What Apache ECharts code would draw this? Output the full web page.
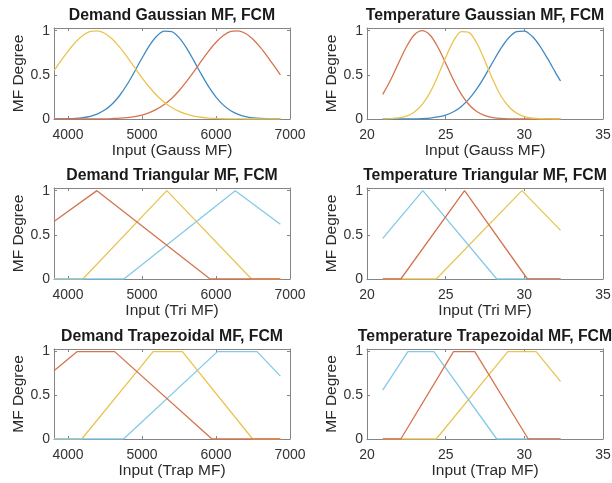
<!DOCTYPE html>
<html><head><meta charset="utf-8">
<script src="https://cdn.jsdelivr.net/npm/echarts@6/dist/echarts.min.js"></script>
<style>html,body{margin:0;padding:0;background:#fff}#c{width:612px;height:483px}</style>
</head><body><div id="c"></div>
<script>
// ---------- data ----------
const panelTitles = ['Demand Gaussian MF, FCM','Temperature Gaussian MF, FCM','Demand Triangular MF, FCM','Temperature Triangular MF, FCM','Demand Trapezoidal MF, FCM','Temperature Trapezoidal MF, FCM'];
const xNames = ['Input (Gauss MF)','Input (Gauss MF)','Input (Tri MF)','Input (Tri MF)','Input (Trap MF)','Input (Trap MF)'];
const yName = 'MF Degree';
const demandTicks = [4000,5000,6000,7000];
const tempTicks = [20,25,30,35];
const yTicks = [0,0.5,1];

const demandX = [3810,3900,4000,4100,4200,4300,4400,4500,4600,4700,4800,4900,5000,5100,5200,5300,5400,5500,5600,5700,5800,5900,6000,6100,6200,6300,6400,6500,6600,6700,6800,6870];
const demandGaussYellow = [0.547,0.654,0.769,0.869,0.946,0.991,0.998,0.968,0.903,0.811,0.701,0.583,0.466,0.359,0.266,0.190,0.130,0.086,0.055,0.033,0.020,0.011,0.006,0.003,0.002,0.001,0,0,0,0,0,0];
const demandGaussBlue = [0.001,0.001,0.003,0.007,0.016,0.031,0.059,0.104,0.173,0.269,0.393,0.538,0.690,0.831,0.939,0.995,0.989,0.921,0.805,0.660,0.508,0.366,0.248,0.157,0.093,0.052,0.027,0.013,0.006,0.003,0.001,0.001];
const demandGaussRed = [0,0,0,0,0,0.001,0.001,0.002,0.005,0.009,0.016,0.027,0.045,0.072,0.111,0.164,0.233,0.320,0.422,0.535,0.654,0.769,0.869,0.946,0.991,0.998,0.968,0.903,0.811,0.701,0.583,0.500];

const tempX = [21.0,21.5,22.0,22.5,23.0,23.5,24.0,24.5,25.0,25.5,26.0,26.5,27.0,27.5,28.0,28.5,29.0,29.5,30.0,30.5,31.0,31.5,32.0,32.3];
const tempGaussRed = [0.279,0.442,0.632,0.815,0.950,1.000,0.950,0.815,0.632,0.442,0.279,0.159,0.082,0.038,0.016,0.006,0.002,0.001,0,0,0,0,0,0];
const tempGaussYellow = [0.001,0.004,0.012,0.033,0.077,0.162,0.298,0.486,0.698,0.885,0.990,0.978,0.852,0.655,0.445,0.266,0.141,0.066,0.027,0.010,0.003,0.001,0,0];
const tempGaussBlue = [0,0,0,0.001,0.002,0.005,0.011,0.023,0.044,0.082,0.142,0.230,0.347,0.489,0.645,0.796,0.917,0.988,0.995,0.936,0.823,0.677,0.520,0.430];

const demandTriYellowX = [3810,4200,5335,6480,6870];
const demandTriYellowY = [0,0,1,0,0];
const demandTriCyanX = [3810,4755,6260,6870];
const demandTriCyanY = [0,0,1,0.62];
const demandTriRedX = [3810,4390,5920,6870];
const demandTriRedY = [0.65,1,0,0];

const tempTriYellowX = [21.0,24.4,29.85,32.3];
const tempTriYellowY = [0,0,1,0.55];
const tempTriCyanX = [21.0,23.55,28.25,32.3];
const tempTriCyanY = [0.46,1,0,0];
const tempTriRedX = [21.0,22.15,26.2,30.2,32.3];
const tempTriRedY = [0,0,1,0,0];

const demandTrapYellowX = [3810,4185,5150,5545,6495,6870];
const demandTrapYellowY = [0,0,1,1,0,0];
const demandTrapCyanX = [3810,4750,6020,6555,6870];
const demandTrapCyanY = [0,0,1,1,0.72];
const demandTrapRedX = [3810,4125,4630,5945,6870];
const demandTrapRedY = [0.78,1,1,0,0];

const tempTrapYellowX = [21.0,24.4,28.95,30.75,32.3];
const tempTrapYellowY = [0,0,1,1,0.66];
const tempTrapCyanX = [21.0,22.6,24.25,28.25,32.3];
const tempTrapCyanY = [0.56,1,1,0,0];
const tempTrapRedX = [21.0,22.15,25.5,26.85,30.25,32.3];
const tempTrapRedY = [0,0,1,1,0,0];

// ---------- styling ----------
const C = {blue:'#4089c2', red:'#d5734f', yellow:'#eac44f', cyan:'#84c9e8'};
const FONT = 'Liberation Sans, Arial, Helvetica, sans-serif';
const AXIS_COLOR = '#858585';
const zip = (xs, ys) => xs.map((x, i) => [x, ys[i]]);
const plain = v => String(v);

const panels = [
  {x:[3810,7000], ticks:demandTicks, series:[[demandX,demandGaussBlue,C.blue,true],[demandX,demandGaussRed,C.red,true],[demandX,demandGaussYellow,C.yellow,true]]},
  {x:[20,35], ticks:tempTicks, series:[[tempX,tempGaussBlue,C.blue,true],[tempX,tempGaussRed,C.red,true],[tempX,tempGaussYellow,C.yellow,true]]},
  {x:[3810,7000], ticks:demandTicks, series:[[demandTriYellowX,demandTriYellowY,C.yellow],[demandTriCyanX,demandTriCyanY,C.cyan],[demandTriRedX,demandTriRedY,C.red]]},
  {x:[20,35], ticks:tempTicks, series:[[tempTriYellowX,tempTriYellowY,C.yellow],[tempTriCyanX,tempTriCyanY,C.cyan],[tempTriRedX,tempTriRedY,C.red]]},
  {x:[3810,7000], ticks:demandTicks, series:[[demandTrapYellowX,demandTrapYellowY,C.yellow],[demandTrapCyanX,demandTrapCyanY,C.cyan],[demandTrapRedX,demandTrapRedY,C.red]]},
  {x:[20,35], ticks:tempTicks, series:[[tempTrapYellowX,tempTrapYellowY,C.yellow],[tempTrapCyanX,tempTrapCyanY,C.cyan],[tempTrapRedX,tempTrapRedY,C.red]]}
];
const gridLefts = [54, 367];
const gridTops = [28, 188, 349];
const gridHeights = [91, 91, 90];
const gridWidth = 236;
const yMax = 1.03;

const grid = [], xAxis = [], yAxis = [], series = [];
panels.forEach((p, i) => {
  const col = i % 2, row = Math.floor(i / 2);
  grid.push({left: gridLefts[col], top: gridTops[row], width: gridWidth, height: gridHeights[row],
    containLabel: false, outerBoundsMode: 'none'});
  const line = {show: true, onZero: false, lineStyle: {color: AXIS_COLOR, width: 1}};
  const tick = {show: true, inside: true, length: 3, customValues: p.ticks, lineStyle: {color: AXIS_COLOR}};
  xAxis.push({gridIndex: i, type: 'value', position: 'bottom', min: p.x[0], max: p.x[1],
    axisLine: line, axisTick: tick, splitLine: {show: false},
    axisLabel: {customValues: p.ticks, formatter: plain, margin: 9, color: '#333', fontSize: 14, fontFamily: FONT},
    name: xNames[i], nameLocation: 'middle', nameGap: 24,
    nameTextStyle: {color: '#2a2a2a', fontSize: 15.5, fontFamily: FONT}});
  xAxis.push({gridIndex: i, type: 'value', position: 'top', min: p.x[0], max: p.x[1],
    axisLine: line, axisTick: tick, splitLine: {show: false}, axisLabel: {show: false},
    name: panelTitles[i], nameLocation: 'middle', nameGap: 4,
    nameTextStyle: {color: '#1a1a1a', fontSize: 15.8, fontWeight: 'bold', fontFamily: FONT}});
  const ytick = {show: true, inside: true, length: 3, customValues: yTicks, lineStyle: {color: AXIS_COLOR}};
  yAxis.push({gridIndex: i, type: 'value', position: 'left', min: 0, max: yMax,
    axisLine: line, axisTick: ytick, splitLine: {show: false},
    axisLabel: {customValues: yTicks, formatter: plain, margin: 4, color: '#333', fontSize: 14, fontFamily: FONT},
    name: yName, nameLocation: 'middle', nameRotate: 90, nameGap: col === 0 ? 27 : 24,
    nameTextStyle: {color: '#2a2a2a', fontSize: 15.5, fontFamily: FONT}});
  yAxis.push({gridIndex: i, type: 'value', position: 'right', min: 0, max: yMax,
    axisLine: line, axisTick: ytick, splitLine: {show: false}, axisLabel: {show: false}});
  p.series.forEach(s => {
    series.push({type: 'line', xAxisIndex: 2 * i, yAxisIndex: 2 * i, data: zip(s[0], s[1]),
      showSymbol: false, smooth: s[3] ? 0.3 : false, silent: true,
      lineStyle: {color: s[2], width: 1.3}, itemStyle: {color: s[2]}});
  });
});

const chart = echarts.init(document.getElementById('c'), null, {renderer: 'canvas'});
chart.setOption({backgroundColor: '#fff', animation: false, grid, xAxis, yAxis, series});
</script></body></html>
